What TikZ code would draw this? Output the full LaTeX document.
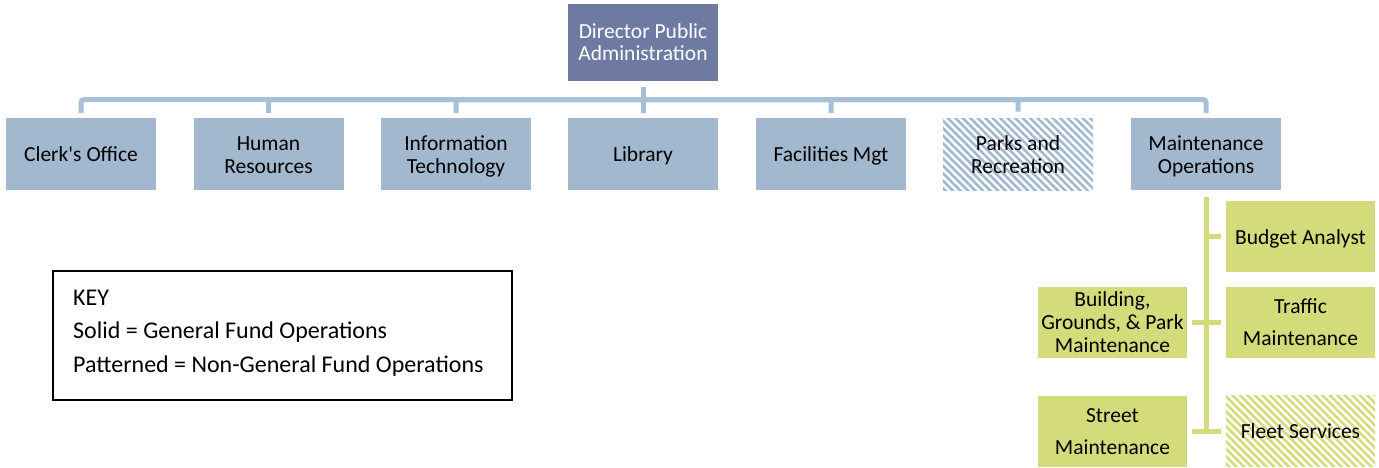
\documentclass[tikz,border=0pt]{standalone}
\usepackage{fontspec}
\setmainfont{Carlito}
\usetikzlibrary{patterns.meta}
\definecolor{dirblue}{HTML}{6F7AA2}
\definecolor{boxblue}{HTML}{A1B8CF}
\definecolor{lineblue}{HTML}{A7C0D6}
\definecolor{boxgreen}{HTML}{D4DB7B}
\newcommand{\sst}{\rule[-4pt]{0pt}{23pt}}
\tikzset{
  txt/.style={font=\fontsize{21.5}{23}\selectfont, align=center, inner sep=0pt},
  dirbox/.style={txt, fill=dirblue, text=white, minimum width=150pt, minimum height=77pt},
  bluebox/.style={txt, fill=boxblue, minimum width=150pt, minimum height=72pt},
  bluepat/.style={txt, pattern={Lines[angle=-45, distance=5.3pt, line width=2.6pt]}, pattern color=boxblue, minimum width=150pt, minimum height=72pt},
  greenbox/.style={txt, fill=boxgreen, minimum width=149pt, minimum height=71pt},
  greenpat/.style={txt, pattern={Lines[angle=-45, distance=5.3pt, line width=2.6pt]}, pattern color=boxgreen, minimum width=149pt, minimum height=71pt},
  bconn/.style={draw=lineblue, line width=5pt, rounded corners=3pt},
  gconn/.style={draw=boxgreen, line width=5pt},
  keytxt/.style={font=\fontsize{24}{28}\selectfont, inner sep=0pt, anchor=base west},
}
\begin{document}
\begin{tikzpicture}[x=1pt,y=-1pt]
\useasboundingbox (0,0) rectangle (1379,467);
% top
\node[dirbox] (dir) at (643,42) {\sst Director Public\\[-1pt]\sst Administration};
\node[bluebox] (clerk) at (81,154) {\sst Clerk\textquotesingle s Office};
\node[bluebox] (hr) at (268.5,154) {\sst Human\\\sst Resources};
\node[bluebox] (it) at (456,154) {\sst Information\\\sst Technology};
\node[bluebox] (lib) at (643,154) {\sst Library};
\node[bluebox] (fac) at (831,154) {\sst Facilities Mgt};
\node[bluepat] (parks) at (1018,154) {\sst Parks and\\\sst Recreation};
\node[bluebox] (maint) at (1206,154) {\sst Maintenance\\\sst Operations};
\coordinate (bar) at (643,99.5);
\draw[bconn, shorten <=6pt] (dir.south) -- (bar);
\foreach \c in {clerk,hr,it,lib,fac,parks,maint}{
  \draw[bconn, shorten >=5pt] (bar) -| (\c.north);
}
% green subtree
\node[greenbox] (budget) at (1300.5,236.5) {\sst Budget Analyst};
\node[greenbox] (traffic) at (1300.5,322) {\sst Traffic\\[9pt]\sst Maintenance};
\node[greenbox] (bldg) at (1112.5,322) {\sst Building,\\\sst Grounds, \& Park\\\sst Maintenance};
\node[greenbox] (street) at (1112.5,431) {\sst Street\\[9pt]\sst Maintenance};
\node[greenpat] (fleet) at (1300.5,431) {\sst Fleet Services};
\coordinate (gbot) at (street.east -| maint.south);
\draw[gconn, shorten <=7pt] (maint.south) -- (gbot);
\draw[gconn, shorten <=5pt] (budget.west) -- (budget.west -| maint.south);
\draw[gconn, shorten <=5pt, shorten >=5pt] (bldg.east) -- (traffic.west);
\draw[gconn, shorten <=5pt, shorten >=5pt] (street.east) -- (fleet.west);
% key
\node[draw=black, line width=2pt, minimum width=459pt, minimum height=129pt, inner sep=0pt] (key) at (282.5,335.5) {};
\node[keytxt] (k1) at (73,305) {KEY};
\node[keytxt] (k2) at (73,338) {Solid = General Fund Operations};
\node[keytxt] (k3) at (73,372) {Patterned = Non-General Fund Operations};
\end{tikzpicture}
\end{document}
